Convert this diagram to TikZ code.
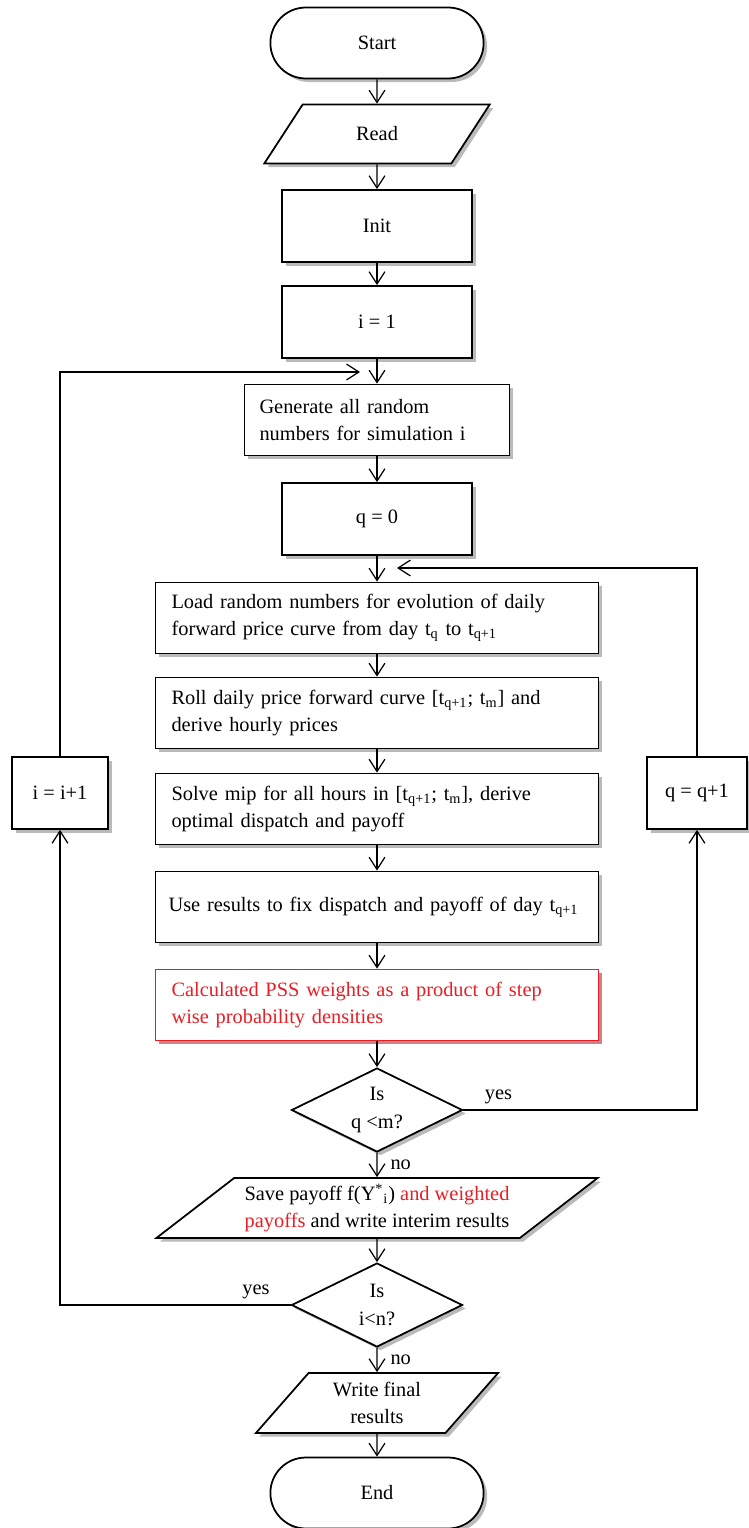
\documentclass[tikz,border=0pt]{standalone}
\usepackage{fontspec}
\setmainfont{Liberation Serif}
\usetikzlibrary{arrows.meta,shapes.geometric,shapes.misc,shadows}
\definecolor{pssred}{RGB}{232,30,38}

\begin{document}
\begin{tikzpicture}[x=0.02cm, y=-0.02cm,
    font=\fontsize{11.6}{15.5}\selectfont,
    >={Straight Barb[length=7pt,width=9pt]},
    flow/.style={->, line width=0.7pt},
    shade/.style={drop shadow={shadow xshift=2pt, shadow yshift=-2pt, fill=black!60, opacity=0.45}},
    terminal/.style={rounded rectangle, draw, line width=1pt, fill=white, shade,
      minimum width=4.5cm, minimum height=1.42cm},
    io/.style={trapezium, trapezium stretches=true, draw, line width=1pt, fill=white, shade,
      align=center, inner sep=0pt},
    box/.style={rectangle, draw, line width=1pt, fill=white, shade, align=center,
      minimum width=3.8cm, minimum height=1.44cm},
    widebox/.style={rectangle, draw, line width=1pt, fill=white, shade, align=left,
      inner xsep=0.32cm, text width=8.22cm, minimum height=1.42cm},
    decision/.style={diamond, aspect=2, draw, line width=1pt, fill=white, shade,
      align=center, inner sep=0pt, minimum width=3.42cm, minimum height=1.68cm}]
  \useasboundingbox (0,0) rectangle (748,1528);

  \node [terminal] (start) at (377,43) {Start};
  \node [io, trapezium left angle=53, trapezium right angle=127,
    minimum width=4.52cm, minimum height=1.18cm] (read) at (377,134) {Read};
  \node [box] (init) at (377,226) {Init};
  \node [box] (ione) at (377,322) {i = 1};
  \node [box, align=left, inner xsep=0.3cm, text width=4.7cm, minimum height=1.42cm]
    (gen) at (377,420) {Generate all random\\numbers for simulation i};
  \node [box] (qzero) at (377,519) {q = 0};
  \node [widebox] (load) at (377,618)
    {Load random numbers for evolution of daily\\forward price curve from day t\textsubscript{q} to t\textsubscript{q+1}};
  \node [widebox] (roll) at (377,713)
    {Roll daily price forward curve [t\textsubscript{q+1}; t\textsubscript{m}] and\\derive hourly prices};
  \node [widebox] (solve) at (377,809)
    {Solve mip for all hours in [t\textsubscript{q+1}; t\textsubscript{m}], derive\\optimal dispatch and payoff};
  \node [widebox, inner xsep=0.26cm, text width=8.34cm] (use) at (377,907)
    {Use results to fix dispatch and payoff of day t\textsubscript{q+1}};
  \node [widebox, draw=pssred, text=pssred,
    drop shadow={shadow xshift=2pt, shadow yshift=-2pt, fill=pssred, opacity=0.35}] (calc) at (377,1005)
    {Calculated PSS weights as a product of step\\wise probability densities};
  \node [decision] (dq) at (377,1110) {Is\\q <m?};
  \node [io, trapezium left angle=34, trapezium right angle=146,
    minimum width=8.84cm, minimum height=1.2cm] (save) at (377,1208)
    {Save payoff f(Y\textsuperscript{*}\textsubscript{i}) \textcolor{pssred}{and weighted}\\
     \textcolor{pssred}{payoffs} and write interim results};
  \node [decision] (di) at (377,1305) {Is\\i<n?};
  \node [io, trapezium left angle=51, trapezium right angle=129,
    minimum width=4.88cm, minimum height=1.2cm] (final) at (377,1403) {Write final\\results};
  \node [terminal] (stop) at (377,1493) {End};

  % loop counters
  \node [box, minimum width=1.92cm] (iinc) at (60,793) {i = i+1};
  \node [box, minimum width=2cm] (qinc) at (697,793) {q = q+1};
  \coordinate (ijoin) at (360,372);
  \coordinate (qjoin) at (397,568);

  \draw [flow] (start) -- (read);
  \draw [flow] (read) -- (init);
  \draw [flow] (init) -- (ione);
  \draw [flow] (ione) -- (gen);
  \draw [flow] (gen) -- (qzero);
  \draw [flow] (qzero) -- (load);
  \draw [flow] (load) -- (roll);
  \draw [flow] (roll) -- (solve);
  \draw [flow] (solve) -- (use);
  \draw [flow] (use) -- (calc);
  \draw [flow] (calc) -- (dq);
  \draw [flow] (dq) -- node [right, xshift=4pt] {no} (save);
  \draw [flow] (save) -- (di);
  \draw [flow] (di) -- node [right, xshift=4pt] {no} (final);
  \draw [flow] (final) -- (stop);

  \draw [flow] (dq.east) -- node [above, pos=0.15] {yes} (dq.east -| qinc.south) -- (qinc.south);
  \draw [flow] (qinc.north) |- (qjoin);
  \draw [flow] (di.west) -- node [above, pos=0.15] {yes} (di.west -| iinc.south) -- (iinc.south);
  \draw [flow] (iinc.north) |- (ijoin);
\end{tikzpicture}
\end{document}
